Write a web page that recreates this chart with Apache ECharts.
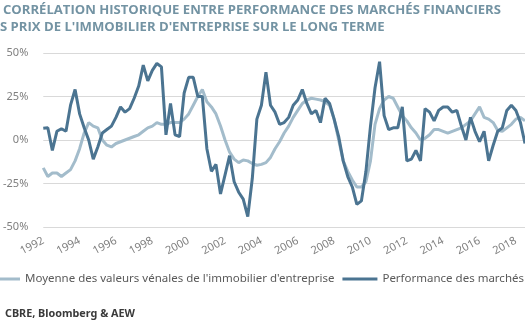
<!DOCTYPE html>
<html>
<head>
<meta charset="utf-8">
<script src="https://cdn.jsdelivr.net/npm/echarts@6/dist/echarts.min.js"></script>
<style>
html,body{margin:0;padding:0;background:#fff;}
#c{width:525px;height:328px;}
</style>
</head>
<body>
<div id="c"></div>
<script>
// Years covered (quarterly observations, 1992 T1 .. 2018 T3)
var years = [1992,1993,1994,1995,1996,1997,1998,1999,2000,2001,2002,2003,2004,2005,2006,2007,2008,2009,2010,2011,2012,2013,2014,2015,2016,2017,2018];
var quartersInLastYear = 3;
var seriesNames = ["Moyenne des valeurs vénales de l'immobilier d'entreprise", "Performance des marchés financiers"];
var yTicks = [-50, -25, 0, 25, 50];

// Moyenne des valeurs vénales de l'immobilier d'entreprise (%)
var immobilier = [
 -16,-21,-19,-19,-21,-19,-17,-12,-5,4,10,8,7,0,-3,-4,
 -2,-1,0,1,2,3,5,7,8,10,9,9,10,10,10,12,
 15,20,25,29,22,19,15,8,0,-7,-11,-13,-11.5,-12,-13.5,-14.5,
 -14,-13,-10,-5,-1,4,8,13,17,21,23,24,23.5,23,22,20,
 12,0,-12,-18,-23,-27,-27,-24,-12,9,18,23,25,24,19,14,
 11,7,4,0,1,3,6,6,5,4,5,6,7,9,11,15,
 19,13,12,10,5.5,5,7,9,12,13,11
];
// Performance des marchés financiers (%)
var marches = [
 6.7,7,-6,5,6.5,5,20,29,15,7,0,-11,-4,4,6,8,
 13,19,16,18,24,31,43,34,40,44,42,3,21,3,2,27,
 36,36,25,25,-5,-18,-14,-31,-20,-9,-24,-30,-34,-44,-22,12,
 20,39,20,16,9,10,13,20,23,29,21,15,17,10,24,21,
 12,2,-12,-21,-27,-37,-35,-18,8,30,45,14,6,7,7,19,
 -12,-11,-6,-12,18,16,11,17,19,19,16,17,8,0,13,5,
 -1,5,-12,-3,5,7,17,20,17,10,-2
];

var categories = [];
years.forEach(function(y, k){
  var n = (k === years.length - 1) ? quartersInLastYear : 4;
  for (var q = 1; q <= n; q++) categories.push(y + ' T' + q);
});

var chart = echarts.init(document.getElementById('c'), null, {renderer:'canvas'});
var FONT = 'Noto Sans';
chart.setOption({
  animation:false,
  backgroundColor:'#ffffff',
  graphic:[
    {type:'text', left:3, top:4, style:{text:'CORRÉLATION HISTORIQUE ENTRE PERFORMANCE DES MARCHÉS FINANCIERS', fill:'#7393a3', font:'bold 13.1px "Open Sans"'}},
    {type:'text', left:0, top:21, style:{text:"S PRIX DE L'IMMOBILIER D'ENTREPRISE SUR LE LONG TERME", fill:'#7393a3', font:'bold 13.1px "Open Sans"'}},
    {type:'text', left:5, top:308, style:{text:'CBRE, Bloomberg & AEW', fill:'#3a3a3a', font:'bold 10.8px "Noto Sans"'}}
  ],
  grid:{left:36, right:0, top:53, bottom:101, containLabel:false},
  legend:{
    left:-20, top:268, width:900, itemWidth:35, itemHeight:3, itemGap:8,
    icon:'rect',
    textStyle:{color:'#595959', fontSize:11.5, fontFamily:FONT},
    data:seriesNames
  },
  xAxis:{
    type:'category', data:categories, boundaryGap:false,
    axisLine:{show:false}, axisTick:{show:false},
    axisLabel:{interval:7, rotate:28, margin:13, color:'#7f7f7f', fontSize:11, fontFamily:FONT,
      formatter:function(v){ return v.slice(0,4); }},
    splitLine:{show:false}
  },
  yAxis:{
    type:'value', min:yTicks[0], max:yTicks[yTicks.length-1], interval:25,
    axisLine:{show:false}, axisTick:{show:false},
    axisLabel:{color:'#7f7f7f', fontSize:11, fontFamily:FONT, margin:15, formatter:function(v){return v+'%';}},
    splitLine:{lineStyle:{color:'#d9d9d9', width:1}}
  },
  series:[
    {name:seriesNames[0], type:'line', data:immobilier, symbol:'none', smooth:false,
     lineStyle:{color:'#a3bccb', width:3}, itemStyle:{color:'#a3bccb'}, z:2},
    {name:seriesNames[1], type:'line', data:marches, symbol:'none', smooth:false,
     lineStyle:{color:'#4b7491', width:3}, itemStyle:{color:'#4b7491'}, z:3}
  ]
});
</script>
</body>
</html>
